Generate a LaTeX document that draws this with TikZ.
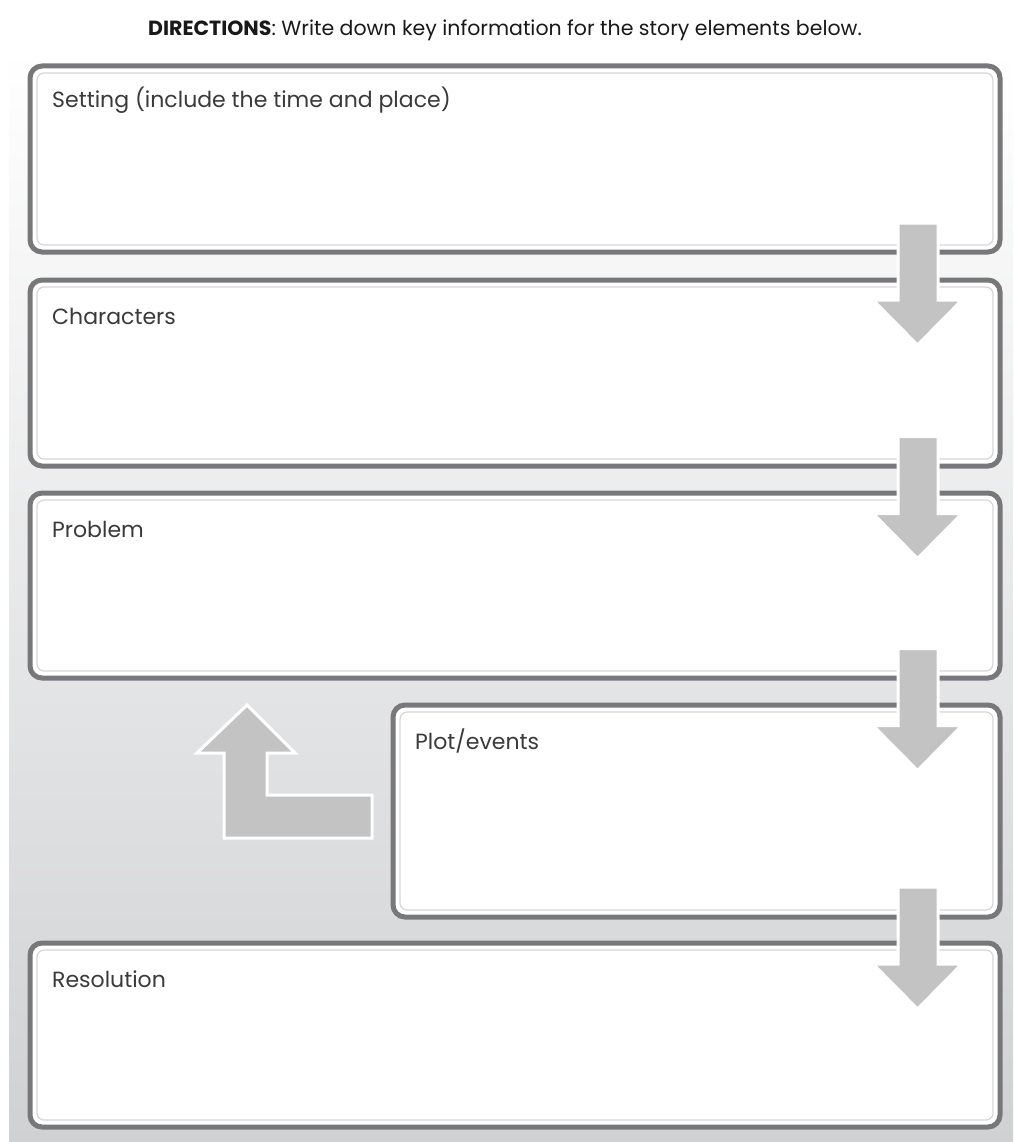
\documentclass[tikz,border=0pt]{standalone}
\usepackage{fontspec}
\setmainfont{Poppins}
\usepackage[usenames,dvipsnames]{xcolor}
\usepackage{tikz}
\usetikzlibrary{positioning,calc}

\begin{document}
\begin{tikzpicture}[x=1pt,y=-1pt,
  storybox/.style={draw=boxColor,line width=5pt,fill=white,rounded corners=12pt,outer sep=0pt,inner sep=0pt},
  innerline/.style={draw=innerColor,line width=1.2pt,rounded corners=7pt},
  boxlabel/.style={inner sep=0pt,anchor=base west,text=labelColor,font=\fontsize{22}{26}\selectfont},
  blockarrow/.style={fill=arrowColor,draw=white,line width=3pt,line join=miter}]
\definecolor{boxColor}{RGB}{120,120,122}
\definecolor{innerColor}{RGB}{214,214,216}
\definecolor{labelColor}{RGB}{58,58,60}
\definecolor{arrowColor}{RGB}{195,195,196}
\definecolor{panelColor}{RGB}{208,209,211}
\useasboundingbox (0,0) rectangle (1013,1142);
\shade[top color=white,bottom color=panelColor] (9,50) rectangle (1013,1142);
\node[text=black!90,font=\fontsize{20.5}{24}\selectfont] (title) at (505,30) {\textbf{DIRECTIONS}: Write down key information for the story elements below.};
\node[storybox,minimum width=970pt,minimum height=186pt] (set) at (515,159) {};
\node[storybox,minimum width=970pt,minimum height=186pt] (cha) at (515,373) {};
\node[storybox,minimum width=970pt,minimum height=185pt] (pro) at (515,585.5) {};
\node[storybox,minimum width=607pt,minimum height=212pt] (plo) at (696.5,811) {};
\node[storybox,minimum width=970pt,minimum height=184pt] (res) at (515,1035) {};
\foreach \n in {set,cha,pro,plo,res}
  \draw[innerline] ([shift={(7pt,-7pt)}]\n.north west) rectangle ([shift={(-7pt,7pt)}]\n.south east);
\node[boxlabel] (setlabel) at ([shift={(22pt,-42pt)}]set.north west) {Setting (include the time and place)};
\node[boxlabel] (chalabel) at ([shift={(22pt,-44pt)}]cha.north west) {Characters};
\node[boxlabel] (prolabel) at ([shift={(22pt,-44pt)}]pro.north west) {Problem};
\node[boxlabel] (plolabel) at ([shift={(22pt,-44pt)}]plo.north west) {Plot/events};
\node[boxlabel] (reslabel) at ([shift={(22pt,-44pt)}]res.north west) {Resolution};
\foreach \a/\b in {set/cha,cha/pro,pro/plo,plo/res}
  \draw[blockarrow] ($(\a.south east)!0.5!(\b.north east)$) ++(-102,-43) -- ++(40,0) -- ++(0,77) -- ++(24,0) -- ++(-44.5,45) -- ++(-44.5,-45) -- ++(25,0) -- cycle;
\draw[blockarrow] ([shift={(-21pt,-5.5pt)}]plo.west) ++(0,-21.5) -- ++(-105,0) -- ++(0,-42) -- ++(28,0) -- ++(-48,-48) -- ++(-50,48) -- ++(27,0) -- ++(0,85) -- ++(148,0) -- cycle;
\end{tikzpicture}
\end{document}
